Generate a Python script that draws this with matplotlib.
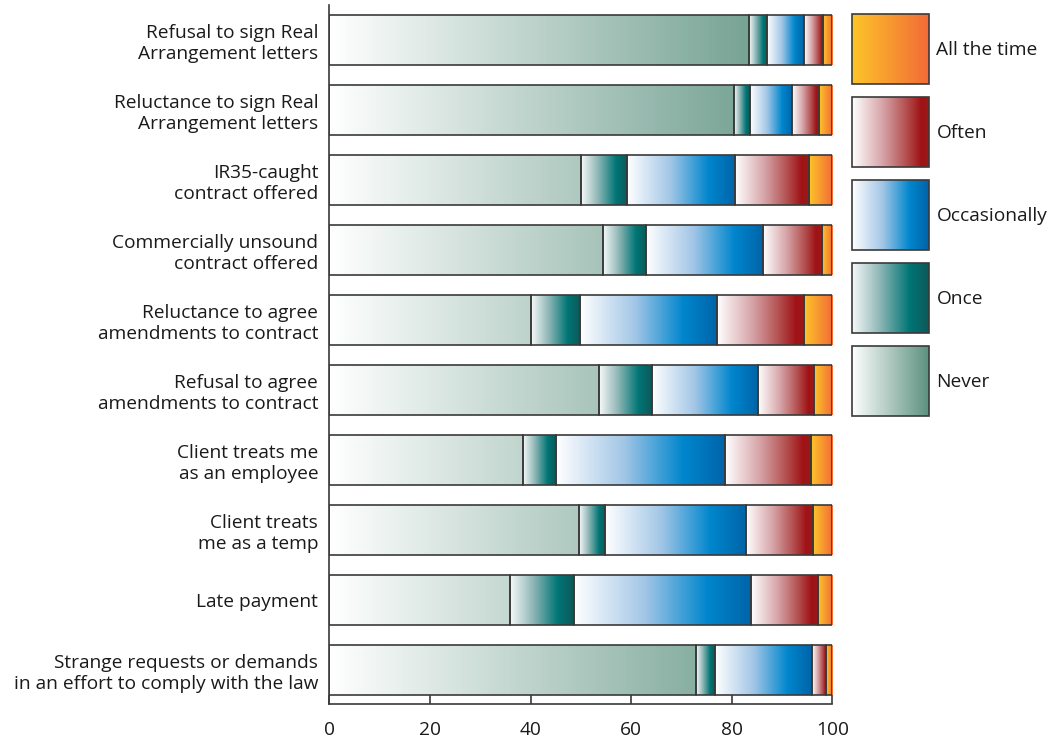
import numpy as np
import matplotlib
matplotlib.use("Agg")
import matplotlib.pyplot as plt
from matplotlib.colors import LinearSegmentedColormap
from matplotlib.patches import Rectangle

plt.rcParams["font.family"] = ["Open Sans", "DejaVu Sans"]

categories = [
    "Refusal to sign Real\nArrangement letters",
    "Reluctance to sign Real\nArrangement letters",
    "IR35-caught\ncontract offered",
    "Commercially unsound\ncontract offered",
    "Reluctance to agree\namendments to contract",
    "Refusal to agree\namendments to contract",
    "Client treats me\nas an employee",
    "Client treats\nme as a temp",
    "Late payment",
    "Strange requests or demands\nin an effort to comply with the law",
]
series_names = ["Never", "Once", "Occasionally", "Often", "All the time"]
never = [83.4, 80.5, 50.0, 54.4, 40.1, 53.6, 38.6, 49.6, 35.9, 73.0]
once = [3.7, 3.1, 9.2, 8.6, 9.7, 10.5, 6.4, 5.3, 12.7, 3.7]
occasionally = [7.3, 8.4, 21.5, 23.3, 27.3, 21.1, 33.7, 27.9, 35.3, 19.2]
often = [3.8, 5.3, 14.6, 11.6, 17.3, 11.1, 17.1, 13.3, 13.3, 2.8]
all_the_time = [1.8, 2.7, 4.7, 2.1, 5.6, 3.7, 4.2, 3.9, 2.8, 1.3]
x_ticks = [0, 20, 40, 60, 80, 100]

EDGE = "#3a3a3a"
LW = 1.2
FS = 13.8

cmaps = {
    "Never": LinearSegmentedColormap.from_list("never", ["#ffffff", "#5c9180"]),
    "Once": LinearSegmentedColormap.from_list(
        "once", [(0, "#f6f9f9"), (0.35, "#93b8b8"), (0.75, "#007575"), (1, "#0e5959")]),
    "Occasionally": LinearSegmentedColormap.from_list(
        "occ", [(0, "#ffffff"), (0.4, "#a2c6e6"), (0.75, "#0086cd"), (1, "#0063a8")]),
    "Often": LinearSegmentedColormap.from_list(
        "often", [(0, "#ffffff"), (0.4, "#d6a4a8"), (0.72, "#b24c4c"), (0.9, "#a01216"), (1, "#9a1a1a")]),
    "All the time": LinearSegmentedColormap.from_list(
        "all", [(0, "#fdc52a"), (1, "#f26b36")]),
}

fig = plt.figure(figsize=(10.6, 7.42), dpi=100)
ax = fig.add_axes([329.3 / 1060, 1 - 704 / 742, 503 / 1060, 699 / 742])

bar_h = 50 / 70
data = [never, once, occasionally, often, all_the_time]
for i in range(len(categories)):
    left = 0.0
    top, bottom = i - bar_h / 2, i + bar_h / 2
    for name, vals in zip(series_names, data):
        w = vals[i]
        right = left + w
        if name == "Never":
            # shade runs across the full 0-100 scale
            grad = np.linspace(left / 100, right / 100, 256)[None, :]
        else:
            grad = np.linspace(0, 1, 256)[None, :]
        ax.imshow(grad, cmap=cmaps[name], vmin=0, vmax=1, aspect="auto",
                  extent=[left, right, bottom, top], interpolation="bilinear", zorder=1)
        ax.add_patch(Rectangle((left, top), w, bar_h, facecolor="none",
                               edgecolor=EDGE, linewidth=LW, zorder=2))
        left = right

ax.set_xlim(0, 100)
ax.set_ylim(9.486, -0.5)
for s in ["top", "right"]:
    ax.spines[s].set_visible(False)
for s in ["left", "bottom"]:
    ax.spines[s].set_color(EDGE)
    ax.spines[s].set_linewidth(LW)

ax.set_xticks(x_ticks)
ax.set_xticklabels([str(t) for t in x_ticks], fontsize=FS, color="#1a1a1a")
ax.tick_params(axis="x", direction="in", length=6.5, width=LW, color=EDGE, pad=12.5)
ax.set_yticks(range(len(categories)))
ax.set_yticklabels(categories, fontsize=FS, color="#1a1a1a", linespacing=1.2)
ax.tick_params(axis="y", length=0, pad=8)

# legend drawn in pixel coordinates on an overlay
lax = fig.add_axes([0, 0, 1, 1], facecolor="none")
lax.set_xlim(0, 1060)
lax.set_ylim(742, 0)
lax.axis("off")
legend_order = ["All the time", "Often", "Occasionally", "Once", "Never"]
box_x, box_w, box_h, step, first_top = 852.3, 76.7, 70, 83, 14
for k, name in enumerate(legend_order):
    t = first_top + k * step
    lax.imshow(np.linspace(0, 1, 256)[None, :], cmap=cmaps[name], vmin=0, vmax=1,
               aspect="auto", extent=[box_x, box_x + box_w, t + box_h, t],
               interpolation="bilinear", zorder=1)
    lax.add_patch(Rectangle((box_x, t), box_w, box_h, facecolor="none",
                            edgecolor=EDGE, linewidth=LW, zorder=2))
    lax.text(box_x + box_w + 7.5, t + box_h / 2 + 1, name, fontsize=FS,
             color="#1a1a1a", va="center", ha="left")
lax.set_xlim(0, 1060)
lax.set_ylim(742, 0)

fig.savefig("out.png", dpi=100)
